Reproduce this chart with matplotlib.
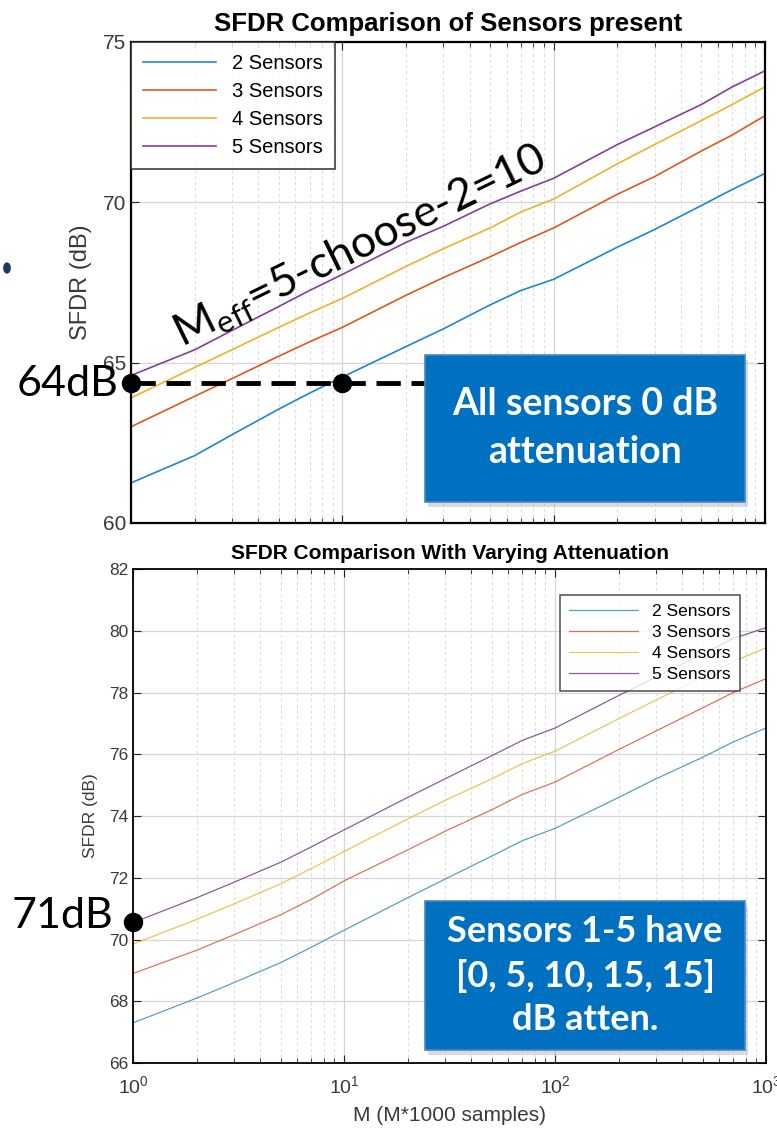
import numpy as np
import matplotlib
matplotlib.use('Agg')
import matplotlib.pyplot as plt
from matplotlib.patches import Rectangle, Circle

plt.rcParams['font.family'] = ['Liberation Sans', 'DejaVu Sans']

# M values (x1000 samples) where the SFDR curves were sampled
m = [1, 2, 3, 5, 7, 10, 20, 30, 50, 70, 100, 200, 300, 500, 700, 1000]

# all sensors at 0 dB attenuation
top_2 = [61.25, 62.1, 62.75, 63.55, 64.05, 64.55, 65.5, 66.05, 66.8, 67.25, 67.6, 68.6, 69.15, 69.9, 70.4, 70.9]
top_3 = [63.0, 63.95, 64.5, 65.2, 65.65, 66.1, 67.1, 67.65, 68.3, 68.75, 69.2, 70.25, 70.8, 71.6, 72.1, 72.7]
top_4 = [63.9, 64.85, 65.4, 66.1, 66.55, 67.0, 68.0, 68.55, 69.2, 69.7, 70.1, 71.2, 71.8, 72.55, 73.05, 73.6]
top_5 = [64.6, 65.4, 66.0, 66.75, 67.25, 67.75, 68.75, 69.25, 69.95, 70.35, 70.75, 71.8, 72.35, 73.05, 73.6, 74.1]

# sensors 1-5 attenuated by [0, 5, 10, 15, 15] dB
bot_2 = [67.3, 68.1, 68.6, 69.25, 69.75, 70.3, 71.35, 71.95, 72.7, 73.2, 73.6, 74.6, 75.2, 75.9, 76.4, 76.85]
bot_3 = [68.9, 69.65, 70.15, 70.8, 71.3, 71.9, 72.9, 73.5, 74.2, 74.7, 75.1, 76.15, 76.75, 77.5, 78.0, 78.45]
bot_4 = [69.85, 70.65, 71.15, 71.8, 72.3, 72.85, 73.9, 74.5, 75.2, 75.7, 76.1, 77.15, 77.75, 78.5, 79.0, 79.45]
bot_5 = [70.55, 71.35, 71.85, 72.5, 73.0, 73.55, 74.6, 75.2, 75.95, 76.45, 76.85, 77.9, 78.5, 79.25, 79.75, 80.1]

labels = ['2 Sensors', '3 Sensors', '4 Sensors', '5 Sensors']
colors = ['#1f86d0', '#e3561f', '#efb22a', '#8a3c9c']
colors_bot = ['#3b8fb8', '#d0603e', '#e6bd3a', '#7a3f8c']

ref_top = 64.35   # level marked as 64dB
ref_bot = 70.57   # level marked as 71dB

fig = plt.figure(figsize=(7.77, 11.31), dpi=100)
ax1 = fig.add_axes([0.1686, 0.5376, 0.816, 0.4253])
ax2 = fig.add_axes([0.1712, 0.0601, 0.8147, 0.4368])

tick_col = '#3a3a3a'


def style(ax, ylo, yhi, ystep, fs):
    ax.set_xscale('log')
    ax.set_xlim(1, 1000)
    ax.set_ylim(ylo, yhi)
    ax.set_yticks(np.arange(ylo, yhi + 0.1, ystep))
    ax.grid(True, which='major', color='#d6d6d6', linewidth=0.9)
    ax.grid(True, which='minor', axis='x', color='#dadada', linestyle=(0, (3, 3)), linewidth=0.7)
    ax.tick_params(which='both', direction='in', top=True, right=True, labelsize=fs,
                   labelcolor=tick_col, color='#222222')
    ax.tick_params(which='major', length=6)
    ax.tick_params(which='minor', length=3.5)
    ax.set_axisbelow(True)


style(ax1, 60, 75, 5, 15)
for ys, c, lab in zip([top_2, top_3, top_4, top_5], colors, labels):
    ax1.plot(m, ys, color=c, linewidth=1.2, label=lab)
ax1.set_xticklabels([], minor=False)
ax1.set_xticklabels([], minor=True)
for s in ax1.spines.values():
    s.set_linewidth(1.6)
ax1.set_ylabel('SFDR (dB)', fontsize=17, color=tick_col, labelpad=8)
ax1.set_title('SFDR Comparison of Sensors present', fontsize=18.5, fontweight='bold', pad=8)
leg1 = ax1.legend(loc='upper left', fontsize=14.5, handlelength=3.6, frameon=True, fancybox=False,
                  borderaxespad=0, labelspacing=0.45, borderpad=0.6)
leg1.get_frame().set_edgecolor('#222222')
leg1.get_frame().set_linewidth(1.3)

style(ax2, 66, 82, 2, 12.5)
ax2.tick_params(axis='x', which='major', labelsize=14, pad=9)
for ys, c, lab in zip([bot_2, bot_3, bot_4, bot_5], colors_bot, labels):
    ax2.plot(m, ys, color=c, linewidth=0.9, alpha=0.85, label=lab)
for s in ax2.spines.values():
    s.set_linewidth(1.3)
ax2.set_ylabel('SFDR (dB)', fontsize=12.5, color=tick_col, labelpad=8)
ax2.set_xlabel('M (M*1000 samples)', fontsize=15, color=tick_col, labelpad=6)
ax2.set_title('SFDR Comparison With Varying Attenuation', fontsize=15, fontweight='bold', pad=7)
leg2 = ax2.legend(loc='upper right', bbox_to_anchor=(0.972, 0.965), fontsize=12.5, handlelength=4.0,
                  frameon=True, fancybox=False, labelspacing=0.35, borderpad=0.5)
leg2.get_frame().set_edgecolor('#222222')
leg2.get_frame().set_linewidth(1.1)

# reference level markers
ax1.plot([1, 30], [ref_top, ref_top], color='black', linestyle=(0, (5, 2.2)), linewidth=3.5,
         clip_on=False, zorder=5)
ax1.plot([1, 10], [ref_top, ref_top], 'o', color='black', markersize=13, clip_on=False, zorder=6)
ax2.plot([1], [ref_bot], 'o', color='black', markersize=13, clip_on=False, zorder=6)

callout = ['Lato', 'DejaVu Sans']
fig.text(0.153, 1 - 384 / 1131, '64dB', fontsize=31, family=callout, ha='right', va='center')
fig.text(0.1455, 1 - 916 / 1131, '71dB', fontsize=31, family=callout, ha='right', va='center')
fig.text(0.464, 1 - 246 / 1131, r'M$_{\mathregular{eff}}$=5-choose-2=10', fontsize=32, family=callout,
         ha='center', va='center', rotation=26, rotation_mode='anchor')

# blue callout boxes
W, H = 777, 1131
boxes = [((425, 355, 745, 502), 'All sensors 0 dB\nattenuation', 27, 1.5),
         ((425, 901, 745, 1050), 'Sensors 1-5 have\n[0, 5, 10, 15, 15]\ndB atten.', 26, 1.4)]
for (x0, y0, x1, y1), txt, fs, ls in boxes:
    fig.patches.append(Rectangle((x0 / W + 0.004, 1 - y1 / H - 0.004), (x1 - x0) / W, (y1 - y0) / H,
                                 transform=fig.transFigure, facecolor='#9a9a9a', alpha=0.35,
                                 edgecolor='none', zorder=7))
    fig.patches.append(Rectangle((x0 / W, 1 - y1 / H), (x1 - x0) / W, (y1 - y0) / H,
                                 transform=fig.transFigure, facecolor='#0070c0', edgecolor='#4a86c8',
                                 linewidth=1.2, zorder=8))
    fig.text((x0 + x1) / 2 / W, 1 - (y0 + y1) / 2 / H, txt, fontsize=fs, fontweight='bold',
             family=callout, color='white', ha='center', va='center', linespacing=ls, zorder=9)

# stray bullet at the left margin
fig.patches.append(Circle((7 / 777, 1 - 268 / 1131), 0.005, transform=fig.transFigure,
                          facecolor='#1f3864', edgecolor='none'))

fig.savefig('out.png', dpi=100)
